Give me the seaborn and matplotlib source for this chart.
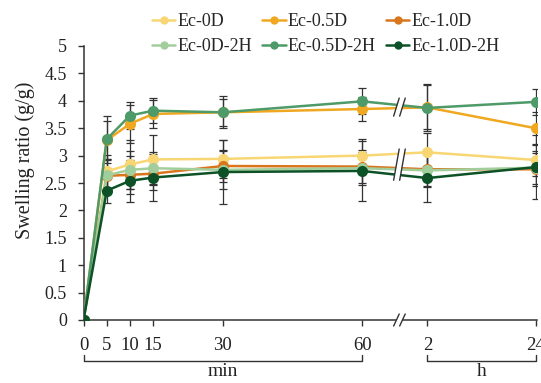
import numpy as np
import pandas as pd
import matplotlib
matplotlib.use("Agg")
import matplotlib.pyplot as plt
import matplotlib.transforms as mtransforms
from matplotlib.patches import Polygon
from matplotlib.lines import Line2D
import seaborn as sns

# ---------------- data ----------------
time_min = [0, 5, 10, 15, 30, 60]
time_h = [2, 24]
tick_labels = ["0", "5", "10", "15", "30", "60", "2", "24"]

series_names = ["Ec-0D", "Ec-0.5D", "Ec-1.0D", "Ec-0D-2H", "Ec-0.5D-2H", "Ec-1.0D-2H"]
ec_0d = [0, 2.71, 2.84, 2.93, 2.94, 3.00, 3.06, 2.92]
ec_05d = [0, 3.28, 3.58, 3.76, 3.79, 3.85, 3.88, 3.50]
ec_10d = [0, 2.63, 2.65, 2.67, 2.81, 2.80, 2.75, 2.75]
ec_0d_2h = [0, 2.64, 2.74, 2.77, 2.74, 2.77, 2.73, 2.78]
ec_05d_2h = [0, 3.30, 3.73, 3.82, 3.79, 3.99, 3.87, 3.98]
ec_10d_2h = [0, 2.36, 2.54, 2.60, 2.70, 2.72, 2.59, 2.79]

err_0d = [0, 0.30, 0.45, 0.45, 0.35, 0.30, 0.35, 0.30]
err_05d = [0, 0.36, 0.35, 0.25, 0.25, 0.22, 0.40, 0.30]
err_10d = [0, 0.30, 0.35, 0.30, 0.30, 0.30, 0.30, 0.30]
err_0d_2h = [0, 0.30, 0.35, 0.30, 0.35, 0.30, 0.30, 0.30]
err_05d_2h = [0, 0.43, 0.24, 0.23, 0.29, 0.24, 0.43, 0.24]
err_10d_2h = [0, 0.22, 0.38, 0.43, 0.58, 0.55, 0.44, 0.58]

colors = ["#F7D673", "#F0A820", "#D9761D", "#A2CE9C", "#4E9A69", "#0D5227"]

values = [ec_0d, ec_05d, ec_10d, ec_0d_2h, ec_05d_2h, ec_10d_2h]
errors = [err_0d, err_05d, err_10d, err_0d_2h, err_05d_2h, err_10d_2h]

# broken-axis scale: minutes direct, hours placed after the break
BREAK_POS = 68.0
def hour_pos(h):
    return 74.0 + (h - 2) * (23.3 / 22.0)

xpos = list(time_min) + [hour_pos(h) for h in time_h]

rows = []
for name, vals in zip(series_names, values):
    for xp, v in zip(xpos, vals):
        rows.append({"pos": xp, "ratio": v, "sample": name})
df = pd.DataFrame(rows)

# ---------------- figure ----------------
sns.set_style("ticks")
plt.rcParams["font.family"] = ["Liberation Serif", "DejaVu Serif"]
plt.rcParams["mathtext.fontset"] = "stix"

fig = plt.figure(figsize=(5.41, 3.83), dpi=100)
ax = fig.add_axes([83.5 / 541, 63 / 383, 453 / 541, 274 / 383])

# error bars (behind)
for vals, errs in zip(values, errors):
    ax.errorbar(xpos, vals, yerr=errs, fmt="none", ecolor="#333333",
                elinewidth=0.9, capsize=2.6, capthick=0.9, zorder=1.5)

sns.lineplot(data=df, x="pos", y="ratio", hue="sample", hue_order=series_names,
             palette=colors, marker="o", markersize=8, markeredgewidth=0,
             linewidth=1.8, ax=ax, legend=False, zorder=3, errorbar=None)

ax.set_xlim(0, 97.5)
ax.set_ylim(0, 5)
ax.set_yticks(np.arange(0, 5.01, 0.5))
ax.set_yticklabels(["0", "0.5", "1", "1.5", "2", "2.5", "3", "3.5", "4", "4.5", "5"])
ax.set_xticks(xpos)
ax.set_xticklabels(tick_labels)
ax.tick_params(axis="both", direction="out", length=4, width=1, color="#333333",
               labelcolor="#222222")
ax.tick_params(axis="x", pad=8, labelsize=13.5)
ax.tick_params(axis="y", pad=8, labelsize=13)
for sp in ["top", "right"]:
    ax.spines[sp].set_visible(False)
for sp in ["left", "bottom"]:
    ax.spines[sp].set_color("#333333")
    ax.spines[sp].set_linewidth(1.1)

ax.set_xlabel("")
ax.set_ylabel("Swelling ratio (g/g)", fontsize=14.5, color="#222222")
ax.yaxis.set_label_coords(-0.108, 0.582)

# ---------------- axis break marks ----------------
trans = mtransforms.blended_transform_factory(ax.transData, ax.transAxes)
gap = 0.65
ax.add_patch(plt.Rectangle((BREAK_POS - gap, -0.01), 2 * gap, 0.02, transform=trans,
                           facecolor="white", edgecolor="none", clip_on=False, zorder=4))
for dx in (-gap, gap):
    ax.plot([BREAK_POS + dx - 0.6, BREAK_POS + dx + 0.6], [-0.022, 0.022],
            transform=trans, color="#333333", lw=1.0, clip_on=False, zorder=5)

# break marks across series lines
for (y0, y1) in [(3.72, 4.05), (2.55, 3.12)]:
    sl = 0.6
    poly = Polygon([[BREAK_POS - gap - sl, y0], [BREAK_POS + gap - sl, y0],
                    [BREAK_POS + gap + sl, y1], [BREAK_POS - gap + sl, y1]],
                   closed=True, facecolor="white", edgecolor="none", zorder=6)
    ax.add_patch(poly)
    for dx in (-gap, gap):
        ax.plot([BREAK_POS + dx - sl, BREAK_POS + dx + sl], [y0, y1],
                color="#333333", lw=1.0, zorder=7)

# ---------------- unit brackets ----------------
yb = -0.1496
tick_h = 0.022
for (xa, xb) in [(xpos[0], xpos[5]), (xpos[6], xpos[7])]:
    ax.plot([xa, xa, xb, xb], [yb + tick_h, yb, yb, yb + tick_h], transform=trans,
            color="#333333", lw=1.0, clip_on=False)
ax.text((xpos[0] + xpos[5]) / 2, -0.205, "min", transform=trans,
        ha="center", va="baseline", fontsize=14, color="#222222")
ax.text((xpos[6] + xpos[7]) / 2, -0.205, "h", transform=trans,
        ha="center", va="baseline", fontsize=14, color="#222222")

# ---------------- legend ----------------
handles = [Line2D([0], [0], color=c, lw=1.8, marker="o", markersize=6,
                  markeredgewidth=0) for c in colors]
order = [0, 3, 1, 4, 2, 5]
fig.legend([handles[i] for i in order], [series_names[i] for i in order],
           loc="upper left", bbox_to_anchor=(152 / 541, 1 - 13 / 383), ncol=3,
           frameon=False, fontsize=13, handlelength=1.3, handletextpad=0.12,
           columnspacing=0.55, labelspacing=0.45, borderaxespad=0, borderpad=0)

fig.savefig("out.png", dpi=100)
